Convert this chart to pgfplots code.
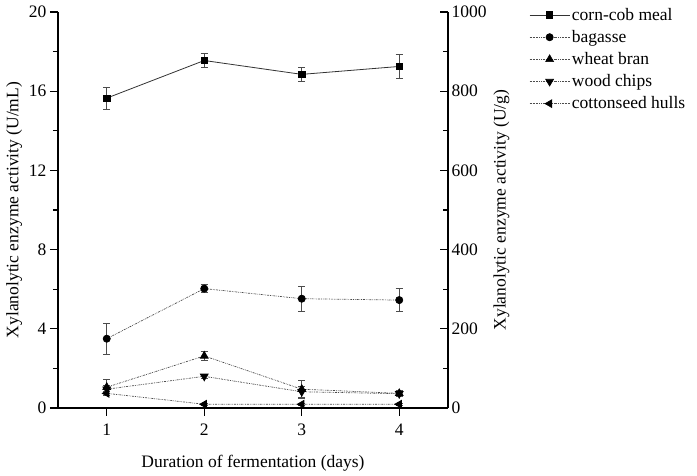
\documentclass[border=0pt]{standalone}
\usepackage{pgfplots}
\pgfplotsset{compat=1.18}
\usepackage{fontspec}
\setmainfont{Liberation Serif}
\definecolor{dg}{gray}{0.3}
\begin{document}
\begin{tikzpicture}
\useasboundingbox (-58pt,-68pt) rectangle (639pt,408pt);
\pgfplotsset{
  every axis/.append style={font=\fontsize{17.5}{21}\selectfont},
  /pgf/number format/assume math mode=true,
  /pgf/number format/1000 sep={},
  dd/.style={dg, line width=0.7pt, dash pattern=on 2pt off 1pt on 0.7pt off 1pt on 0.7pt off 1pt},
  eb/.style={error bars/.cd, y dir=both, y explicit, error mark=-, error mark options={solid,rotate=90,mark size=3.5pt,line width=0.6pt,black!70}, error bar style={solid,line width=0.6pt,black!70}},
}
\begin{axis}[
  scale only axis, width=390pt, height=396pt,
  xmin=0.5, xmax=4.5, ymin=0, ymax=20,
  axis x line*=bottom, axis y line*=left,
  axis line style={line width=1.2pt,-},
  xtick={1,2,3,4}, ytick={0,4,8,12,16,20}, minor ytick={2,6,10,14,18},
  tick align=outside, major tick length=8pt, minor tick length=5pt,
  tick style={line width=1.2pt,black},
  tick label style={font=\fontsize{17.5}{21}\selectfont},
  xticklabel style={yshift=-4pt},
  label style={font=\fontsize{17.5}{21}\selectfont},
  xlabel={Duration of fermentation (days)},
  ylabel={Xylanolytic enzyme activity (U/mL)},
  xlabel style={yshift=-13pt},
  legend style={draw=none, at={(1.208,1.015)}, anchor=north west, font=\fontsize{17.5}{21}\selectfont, row sep=4.5pt, inner sep=0pt, cells={anchor=west}},
  legend image code/.code={\draw[mark repeat=2,mark phase=2] plot coordinates {(0cm,0cm)(0.7cm,0cm)(1.4cm,0cm)};},
  clip=false,
]
\addplot[black!80, line width=0.8pt, mark=square*, mark size=3.2pt, mark options={solid,black}, eb] coordinates {
  (1,15.65) +- (0,0.55) (2,17.55) +- (0,0.35) (3,16.85) +- (0,0.37) (4,17.25) +- (0,0.6)};
\addlegendentry{corn-cob meal}
\addplot[dd, mark=*, mark size=3.6pt, mark options={solid,black}, eb] coordinates {
  (1,3.5) +- (0,0.78) (2,6.03) +- (0,0.2) (3,5.52) +- (0,0.65) (4,5.45) +- (0,0.58)};
\addlegendentry{bagasse}
\addplot[dd, mark=triangle*, mark size=4.5pt, mark options={solid,black}, eb] coordinates {
  (1,1.05) +- (0,0.4) (2,2.63) +- (0,0.22) (3,0.95) +- (0,0.46) (4,0.74) +- (0,0.15)};
\addlegendentry{wheat bran}
\addplot[dd, mark=triangle*, mark size=4.5pt, mark options={solid,black,rotate=180}, eb] coordinates {
  (1,0.95) +- (0,0.2) (2,1.6) +- (0,0.12) (3,0.82) +- (0,0.3) (4,0.72) +- (0,0.15)};
\addlegendentry{wood chips}
\addplot[dd, mark=triangle*, mark size=4.5pt, mark options={solid,black,rotate=90}, eb] coordinates {
  (1,0.74) +- (0,0.1) (2,0.19) +- (0,0.05) (3,0.19) +- (0,0.05) (4,0.19) +- (0,0.05)};
\addlegendentry{cottonseed hulls}
\end{axis}
\begin{axis}[
  scale only axis, width=390pt, height=396pt,
  xmin=0.5, xmax=4.5, ymin=0, ymax=1000,
  axis x line=none, axis y line*=right,
  axis line style={line width=1.2pt,-},
  ytick={0,200,400,600,800,1000}, minor ytick={100,300,500,700,900},
  tick align=inside, major tick length=8pt, minor tick length=5pt,
  tick style={line width=1.2pt,black},
  tick label style={font=\fontsize{17.5}{21}\selectfont},
  label style={font=\fontsize{17.5}{21}\selectfont},
  ylabel={Xylanolytic enzyme activity (U/g)},
]
\end{axis}
\end{tikzpicture}
\end{document}
